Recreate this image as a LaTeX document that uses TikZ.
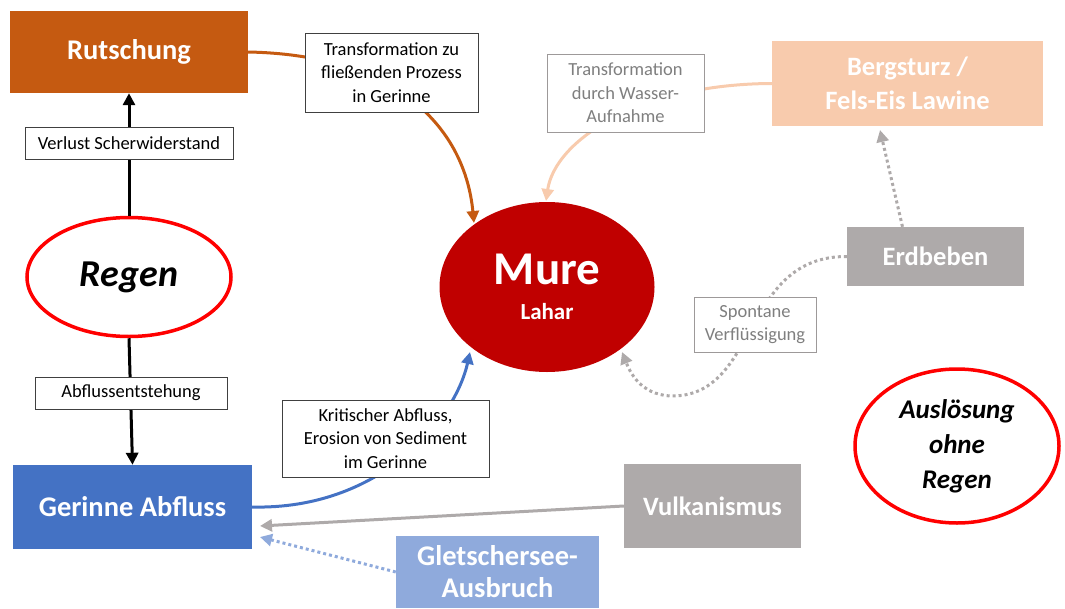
\documentclass[tikz,border=0pt]{standalone}
\usepackage{fontspec}
\setmainfont{Carlito}
\usetikzlibrary{arrows.meta,shapes.geometric}
\definecolor{rutschcol}{HTML}{C55A11}
\definecolor{gerinnecol}{HTML}{4472C4}
\definecolor{murecol}{HTML}{C00000}
\definecolor{bergcol}{HTML}{F8CBAD}
\definecolor{graucol}{HTML}{AEAAAA}
\definecolor{gletschcol}{HTML}{8FAADC}
\definecolor{lblgrau}{HTML}{7F7F7F}
\newcommand{\lblFont}{\fontsize{18.5}{23.5}\selectfont}
\newcommand{\boxFont}{\fontsize{28.5}{32}\selectfont\bfseries}
\newcommand{\boxFontS}{\fontsize{26.5}{34}\selectfont\bfseries}
\newcommand{\ovalFont}{\fontsize{27}{35}\selectfont\bfseries\itshape}

\begin{document}
\begin{tikzpicture}[x=1pt, y=-1pt]
  \tikzset{
    procbox/.style={rectangle, inner sep=0pt, text=white, font=\boxFont, align=center},
    trigger/.style={ellipse, draw=red, line width=3.5pt, fill=white, inner sep=0pt, align=center},
    lbl/.style={rectangle, draw=black!75, fill=white, line width=0.8pt, inner sep=0pt, font=\lblFont, align=center},
    lblgray/.style={lbl, draw=graucol!90!black, text=lblgrau},
    tip/.style={-{Triangle[length=12pt,width=12pt]}},
    flow/.style={tip, line width=3pt},
    dots/.style={tip, line width=3pt, dash pattern=on 3pt off 3pt}
  }
  \useasboundingbox (0,0) rectangle (1065,608);

  \node[procbox, fill=rutschcol, minimum width=238pt, minimum height=82pt] (rutsch) at (129,52) {Rutschung};
  \node[trigger, minimum width=204pt, minimum height=119pt, font=\fontsize{38}{38}\selectfont\bfseries\itshape] (regen) at (129,277) {Regen};
  \node[procbox, fill=gerinnecol, minimum width=239pt, minimum height=84pt] (gerinne) at (132.5,507) {Gerinne Abfluss};
  \node[ellipse, fill=murecol, minimum width=215pt, minimum height=170pt, inner sep=0pt, text=white, align=center,
    font=\fontsize{47}{47}\selectfont\bfseries] (mure) at (547,287)
    {Mure\\[-12pt]{\fontsize{23}{23}\selectfont Lahar}};
  \node[procbox, fill=bergcol, minimum width=271pt, minimum height=85pt, font=\boxFontS] (berg) at (907.5,83.5) {Bergsturz /\\Fels-Eis Lawine};
  \node[procbox, fill=graucol, minimum width=177pt, minimum height=59pt, font=\boxFontS] (erdbeben) at (935.5,256.5) {Erdbeben};
  \node[procbox, fill=graucol, minimum width=177pt, minimum height=84pt, font=\boxFontS] (vulkan) at (712.5,506) {Vulkanismus};
  \node[procbox, fill=gletschcol, minimum width=203pt, minimum height=72pt] (gletsch) at (497.5,572) {Gletschersee-\\Ausbruch};
  \node[trigger, minimum width=204pt, minimum height=154pt, font=\ovalFont] (ohne) at (957,446) {Auslösung\\ohne\\Regen};

  \draw[flow] (regen.north) -- (rutsch.south);
  \draw[flow] (regen.south) -- (gerinne.north);
  \draw[flow, rutschcol] (rutsch.east) .. controls (400,55) and (465,130) .. (474,223);
  \draw[flow, bergcol] (berg.west) .. controls (640,84) and (555,140) .. (546,201);
  \draw[flow, gerinnecol] (gerinne.east) .. controls (380,510) and (455,420) .. (470,352);
  \draw[dots, graucol] (erdbeben.north) ++(-33,0) -- (880,130);
  \draw[dots, graucol] (erdbeben.west) .. controls (740,256) and (760,398) .. (670,396)
    .. controls (640,394) and (630,372) .. (622,352);
  \draw[flow, graucol] (vulkan.west) -- (260,526);
  \draw[dots, gletschcol] (gletsch.west) -- (260,537);

  \node[lbl, minimum width=208pt, minimum height=32pt] (verlust) at (129,143) {Verlust Scherwiderstand};
  \node[lbl, minimum width=192pt, minimum height=32pt] (abfluss) at (131,393) {Abflussentstehung};
  \node[lbl, minimum width=173pt, minimum height=79pt] (trafo) at (391.5,72.5) {Transformation zu\\fließenden Prozess\\in Gerinne};
  \node[lblgray, minimum width=157pt, minimum height=78pt] (wasser) at (625.5,93) {Transformation\\durch Wasser-\\Aufnahme};
  \node[lbl, minimum width=207pt, minimum height=77pt] (kritisch) at (385.5,438.5) {Kritischer Abfluss,\\Erosion von Sediment\\im Gerinne};
  \node[lblgray, minimum width=122pt, minimum height=55pt] (spontan) at (755,324.5) {Spontane\\Verflüssigung};
\end{tikzpicture}
\end{document}
